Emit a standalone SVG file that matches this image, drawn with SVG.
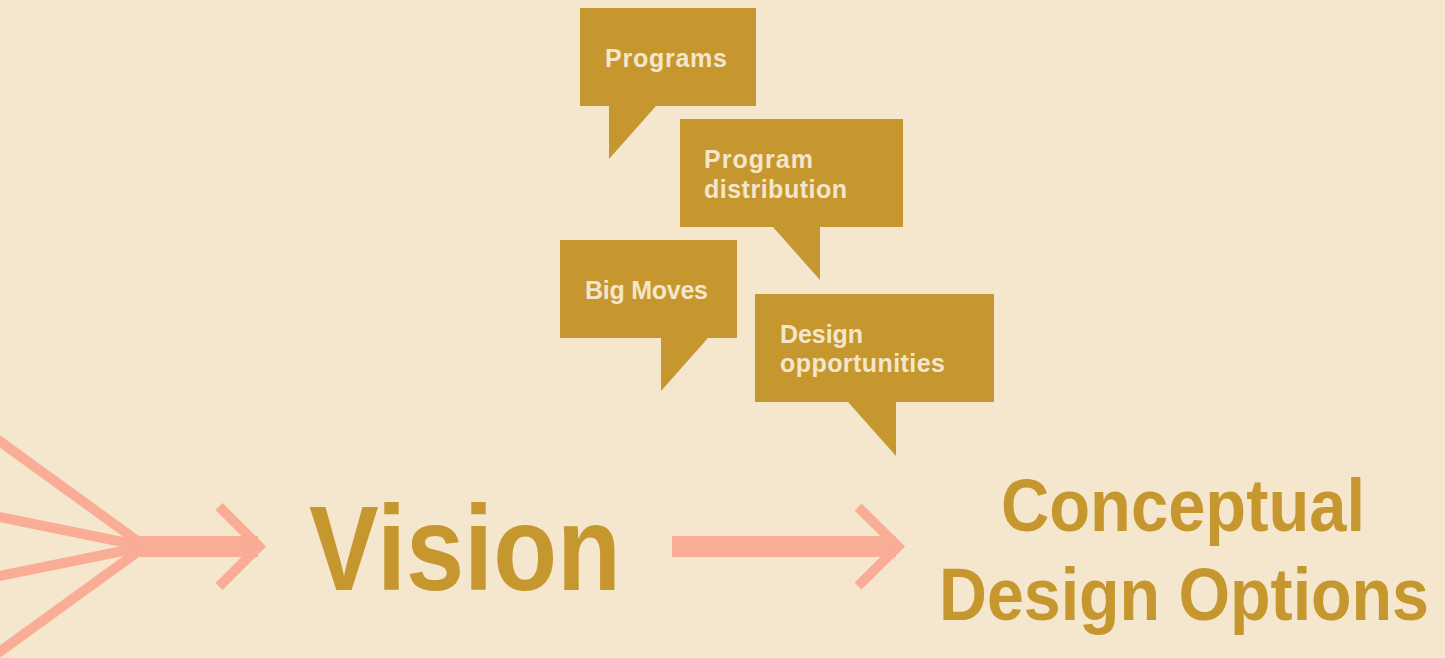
<svg xmlns="http://www.w3.org/2000/svg" width="1445" height="658" viewBox="0 0 1445 658">
  <style>
    .bubble { fill: #C6972F; }
    .blabel { fill: #F4E6CA; font-family: "Liberation Sans", Arial, sans-serif; font-weight: bold; font-size: 25px; }
    .big { fill: #C6972F; font-family: "Liberation Sans", Arial, sans-serif; font-weight: bold; }
    .feed { stroke: #F9AD96; stroke-width: 10; fill: none; }
    .shaft { stroke: #F9AD96; stroke-width: 21; fill: none; }
    .head { stroke: #F9AD96; stroke-width: 10; fill: none; stroke-linejoin: miter; stroke-miterlimit: 4; }
  </style>
  <rect width="1445" height="658" fill="#F4E7CD"/>

  <!-- connectors: converging inputs and the two arrows -->
  <g id="connectors">
    <line class="feed" x1="-20" y1="427" x2="145" y2="546.5"/>
    <line class="feed" x1="-20" y1="513" x2="145" y2="546.5"/>
    <line class="feed" x1="-20" y1="580" x2="145" y2="546.5"/>
    <line class="feed" x1="-20" y1="666" x2="145" y2="546.5"/>
    <line class="shaft" x1="140" y1="546.5" x2="258" y2="546.5"/>
    <polyline class="head" points="219,506.5 259,546.5 219,586.5"/>
    <line class="shaft" x1="672" y1="546.5" x2="896" y2="546.5"/>
    <polyline class="head" points="858,507 898,546.5 858,586"/>
  </g>

  <!-- speech bubbles -->
  <g id="node-programs">
    <path class="bubble" d="M580,8 H756 V106 H656 L609,159 V106 H580 Z"/>
    <text class="blabel" x="605" y="67" textLength="122">Programs</text>
  </g>
  <g id="node-program-distribution">
    <path class="bubble" d="M680,119 H903 V227 H820 V280 L773,227 H680 Z"/>
    <text class="blabel" x="704" y="168" textLength="109">Program</text>
    <text class="blabel" x="704" y="198" textLength="143">distribution</text>
  </g>
  <g id="node-big-moves">
    <path class="bubble" d="M560,240 H737 V338 H708 L661,391 V338 H560 Z"/>
    <text class="blabel" x="585" y="299" textLength="123">Big Moves</text>
  </g>
  <g id="node-design-opportunities">
    <path class="bubble" d="M755,294 H994 V402 H896 V456 L848,402 H755 Z"/>
    <text class="blabel" x="780" y="343" textLength="83">Design</text>
    <text class="blabel" x="780" y="372" textLength="165">opportunities</text>
  </g>

  <!-- main labels, set narrow by a horizontal squeeze -->
  <g id="node-vision">
    <text class="big" transform="translate(309,590) scale(0.87,1)" font-size="120" textLength="358.6" lengthAdjust="spacingAndGlyphs">Vision</text>
  </g>
  <g id="node-conceptual-design-options">
    <text class="big" transform="translate(1001,530.5) scale(0.89,1)" font-size="75" textLength="409" lengthAdjust="spacingAndGlyphs">Conceptual</text>
    <text class="big" transform="translate(939,620) scale(0.884,1)" font-size="75" textLength="554.3" lengthAdjust="spacingAndGlyphs">Design Options</text>
  </g>
</svg>
